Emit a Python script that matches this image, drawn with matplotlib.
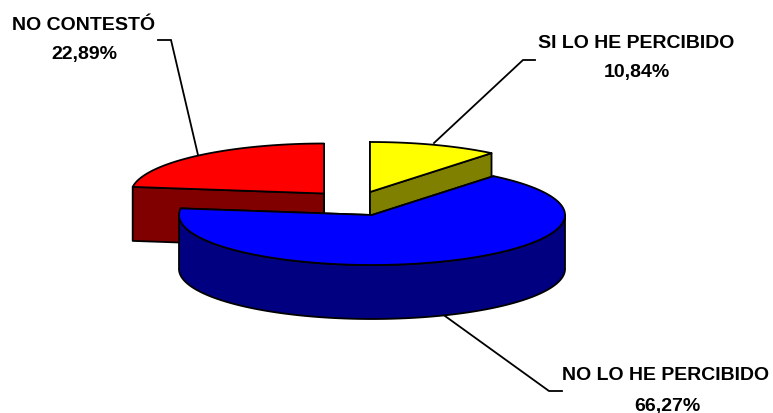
import numpy as np
import matplotlib
matplotlib.use("Agg")
import matplotlib.pyplot as plt
from matplotlib.patches import Polygon

categories = ["SI LO HE PERCIBIDO", "NO LO HE PERCIBIDO", "NO CONTESTÓ"]
values = [10.84, 66.27, 22.89]
value_labels = ["10,84%", "66,27%", "22,89%"]
top_colors = ["#FFFF00", "#0000FF", "#FF0000"]
side_colors = ["#808000", "#000080", "#800000"]

# slice centres (exploded), pie radii and thickness, in pixel-like axis units
centers = [(370, 192), (372, 215), (324, 193.5)]
RX, RY, DEPTH = 193, 50, 54
label_pos = [((636, 44), (637, 73)), ((666, 376), (667, 406)), ((84, 26), (84, 55))]
leaders = [[(535, 60), (523, 60), (434, 143)],
           [(562, 391), (549, 391), (445, 316)],
           [(158, 40), (171, 40), (198, 155)]]

fig = plt.figure(figsize=(7.73, 4.13), dpi=100)
ax = fig.add_axes([0, 0, 1, 1])
ax.set_xlim(0, 773)
ax.set_ylim(413, 0)
ax.axis("off")

LW = 1.3
FONT = dict(family=["Liberation Sans", "DejaVu Sans"], fontweight="bold", fontsize=14,
            color="#000000", ha="center", va="center")


def arc(c, a0, a1, dy=0.0):
    t = np.radians(np.linspace(a0, a1, 200))
    return np.column_stack([c[0] + RX * np.sin(t), c[1] - RY * np.cos(t) + dy])


starts = np.cumsum([0] + values[:-1]) * 3.6
ends = np.cumsum(values) * 3.6


def draw_slice(i, z):
    c, a0, a1 = centers[i], starts[i], ends[i]
    kw = dict(edgecolor="black", linewidth=LW, joinstyle="round", zorder=z)
    # radial cut faces
    for a in (a0, a1):
        tip = arc(c, a, a, 0)[0]
        face = [c, tip, (tip[0], tip[1] + DEPTH), (c[0], c[1] + DEPTH)]
        ax.add_patch(Polygon(face, closed=True, facecolor=side_colors[i], **kw))
    # outer wall: only the part of the rim that faces the viewer (90..270 degrees)
    lo, hi = max(a0, 90), min(a1, 270)
    if hi > lo:
        wall = np.vstack([arc(c, lo, hi), arc(c, hi, lo, DEPTH)])
        ax.add_patch(Polygon(wall, closed=True, facecolor=side_colors[i], **kw))
    top = np.vstack([[c], arc(c, a0, a1)])
    ax.add_patch(Polygon(top, closed=True, facecolor=top_colors[i], **kw))


for z, i in enumerate([2, 0, 1]):
    draw_slice(i, z + 1)

for i, name in enumerate(categories):
    pts = np.array(leaders[i])
    ax.plot(pts[:, 0], pts[:, 1], color="black", lw=LW, zorder=6, solid_joinstyle="miter")
    ax.text(*label_pos[i][0], name, **FONT)
    ax.text(*label_pos[i][1], value_labels[i], **FONT)

fig.savefig("out.png", dpi=100, facecolor="white")
